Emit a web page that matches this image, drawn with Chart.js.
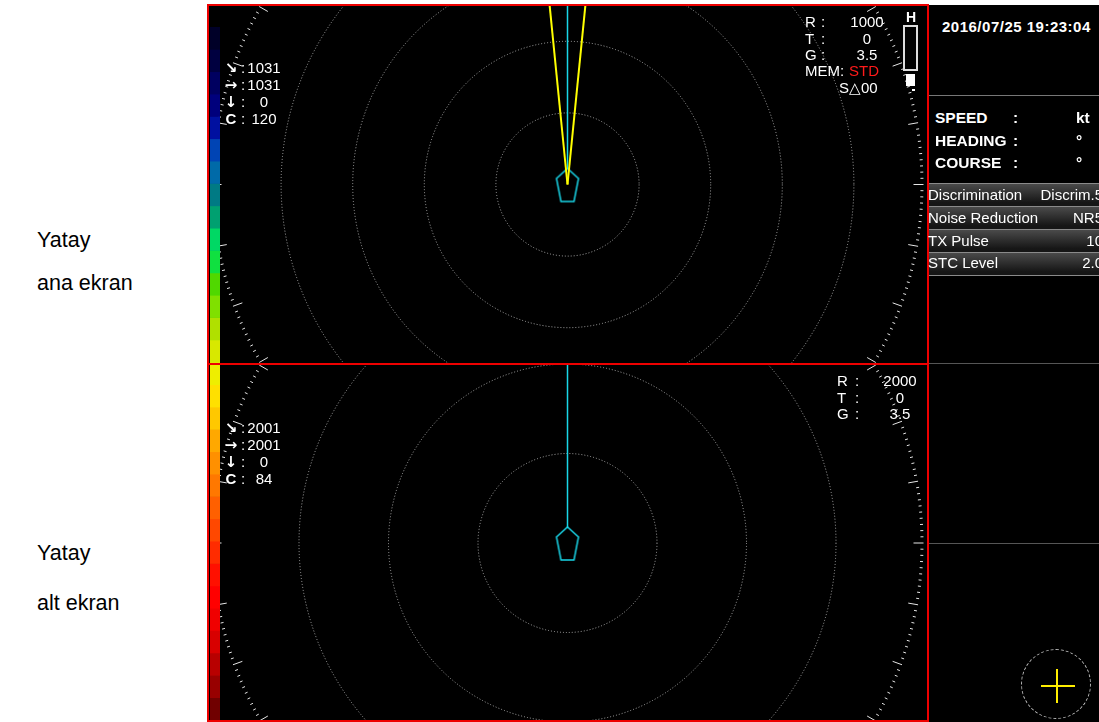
<!DOCTYPE html>
<html>
<head>
<meta charset="utf-8">
<script src="https://cdn.jsdelivr.net/npm/chart.js@4.4.1/dist/chart.umd.min.js"></script>
<style>
  body { margin: 0; width: 1099px; height: 722px; background: #fff; position: relative; overflow: hidden;
         font-family: "Liberation Sans", Arial, sans-serif; }
  .abs { position: absolute; }
  .txt { position: absolute; white-space: nowrap; color: #fff; font-size: 15px; line-height: 20px; height: 20px; }
  .red { position: absolute; background: #ee0000; }
  .sep { position: absolute; left: 929px; width: 170px; height: 1px; background: #777; }
  .row { position: absolute; left: 929px; width: 170px; height: 22px; border-top: 1px solid #8a8a8a;
         background: linear-gradient(#4a4a4a, #161616 85%); }
</style>
</head>
<body>
<div class="abs" style="left:207px;top:5px;width:892px;height:717px;background:#000"></div>
<canvas id="topPanel" class="abs" width="719" height="357" style="left:208px;top:6px"></canvas>
<canvas id="bottomPanel" class="abs" width="719" height="356" style="left:208px;top:365px"></canvas>
<canvas id="levelBar" class="abs" width="10" height="693" style="left:210px;top:27px"></canvas>

<div class="red" style="left:207px;top:4px;width:722px;height:2px"></div>
<div class="red" style="left:207px;top:363px;width:722px;height:2px"></div>
<div class="red" style="left:207px;top:720px;width:722px;height:2px"></div>
<div class="red" style="left:207px;top:4px;width:2px;height:718px"></div>
<div class="red" style="left:927px;top:4px;width:2px;height:718px"></div>

<!-- right info panel -->
<div class="sep" style="top:95px"></div>
<div class="row" style="top:183px"></div>
<div class="row" style="top:206px"></div>
<div class="row" style="top:229px"></div>
<div class="row" style="top:252px"></div>
<div class="sep" style="top:275px;background:#8a8a8a"></div>
<div class="sep" style="top:363px;background:#555"></div>
<div class="sep" style="top:543px;background:#555"></div>
<div class="abs" style="left:1021px;top:649px;width:70px;height:70px;border:1px dashed #bbb;border-radius:50%;box-sizing:border-box"></div>
<div class="abs" style="left:1041px;top:685px;width:34px;height:2px;background:#ffee00"></div>
<div class="abs" style="left:1056px;top:669px;width:2px;height:34px;background:#ffee00"></div>

<!-- H indicator -->
<div class="abs" style="left:903px;top:25px;width:15px;height:46px;border:2px solid #ddd;box-sizing:border-box"></div>
<div class="abs" style="left:906px;top:74px;width:9px;height:12px;background:#fff"></div>
<div class="abs" style="left:912px;top:89px;width:3px;height:2px;background:#fff"></div>

<script>
// range settings (metres) and range rings
const topRange = 1000;
const bottomRange = 2000;
const topRings = [200, 400, 600, 800];
const bottomRings = [500, 1000, 1500];

// bearings in degrees
const headingBearings = [0];
const topBeamBearings = [-5.7, 5.7];
const shipPosition = [{ x: 0, y: 0 }];

// echo level colour scale (top to bottom)
const levelColors = [
  '#000028', '#000040', '#000060', '#00007c', '#0010a0', '#0044b4', '#006aa8', '#007a84',
  '#00a070', '#00d864', '#10e040', '#50d800', '#80e000', '#b0e000', '#d8e800',
  '#eeee00', '#ffe000', '#ffc800', '#ffa800', '#ff9000', '#ff7800', '#ff6000', '#ff4800',
  '#ff2c00', '#ff1000', '#ff0000', '#f00000', '#d80000', '#b80000', '#980000', '#700000'
];

// readouts
const countSymbols = ['↘', '→', '↓', 'C'];
const topCounts = ['1031', '1031', '0', '120'];
const bottomCounts = ['2001', '2001', '0', '84'];
const readoutLabels = ['R', 'T', 'G'];
const topReadout = ['1000', '0', '3.5'];
const bottomReadout = ['2000', '0', '3.5'];
const navLabels = ['SPEED', 'HEADING', 'COURSE'];
const navUnits = ['kt', '°', '°'];
const settingNames = ['Discrimination', 'Noise Reduction', 'TX Pulse', 'STC Level'];
const settingValues = ['Discrim.5', 'NR5', '10', '2.0'];

const PX_PER_RANGE = 358;   // screen pixels for one full range
const shipOutline = [[0, -16], [11, -6], [6.5, 17], [-6.5, 17], [-11, -6]];

function text(str, x, y, css = {}, align) {
  const d = document.createElement('div');
  d.className = 'txt';
  d.textContent = str;
  d.style.top = (y - 10) + 'px';
  if (align === 'center') { d.style.left = (x - 40) + 'px'; d.style.width = '80px'; d.style.textAlign = 'center'; }
  else if (align === 'right') { d.style.left = (x - 150) + 'px'; d.style.width = '150px'; d.style.textAlign = 'right'; }
  else d.style.left = x + 'px';
  Object.assign(d.style, css);
  document.body.appendChild(d);
}

// side captions
const cap = { color: '#000', fontSize: '21.5px', lineHeight: '24px', height: '24px' };
text('Yatay', 37, 238, cap);
text('ana ekran', 37, 281, cap);
text('Yatay', 37, 551, cap);
text('alt ekran', 37, 601, cap);

// counts on the left of each panel
[[topCounts, 68], [bottomCounts, 428]].forEach(([vals, y0]) => {
  vals.forEach((v, i) => {
    const y = y0 + i * 17;
    const sym = i < 3 ? { fontWeight: 'bold', fontSize: '15px', fontFamily: '"DejaVu Sans", sans-serif' } : { fontWeight: 'bold' };
    text(countSymbols[i], 231, y, sym, 'center');
    text(':', 241, y);
    text(v, 264, y, {}, 'center');
  });
});

// range readouts
readoutLabels.forEach((l, i) => {
  const y = 22 + i * 16.5;
  text(l, 805, y); text(':', 821, y); text(topReadout[i], 867, y, {}, 'center');
  const yb = 381 + i * 16.5;
  text(l, 837, yb); text(':', 855, yb); text(bottomReadout[i], 900, yb, {}, 'center');
});
text('MEM:', 805, 71);
text('STD', 849, 71, { color: '#ff1a1a' });
text('S△00', 839, 88);
text('H', 906, 17, { fontWeight: 'bold', fontSize: '14px' });

// right panel
text('2016/07/25 19:23:04', 942, 27, { fontWeight: 'bold', letterSpacing: '0.5px' });
navLabels.forEach((l, i) => {
  const y = 118 + i * 22.5;
  const b = { fontWeight: 'bold', fontSize: '15.5px' };
  text(l, 935, y, b); text(':', 1013, y, b); text(navUnits[i], 1076, y, b);
});
settingNames.forEach((n, i) => {
  const y = 195 + i * 22.8;
  text(n, 928, y);
  text(settingValues[i], 1103, y, {}, 'right');
});

// ring and bearing scale plugin
const ringPlugin = {
  id: 'rings',
  beforeDatasetsDraw(chart, args, opts) {
    const { ctx, chartArea: a } = chart;
    const xs = chart.scales.x, ys = chart.scales.y;
    const cx = xs.getPixelForValue(0), cy = ys.getPixelForValue(0);
    const px = v => xs.getPixelForValue(v) - cx;
    ctx.save();
    ctx.beginPath(); ctx.rect(a.left, a.top, a.right - a.left, a.bottom - a.top); ctx.clip();
    ctx.setLineDash([1, 2]);
    ctx.strokeStyle = '#a8a8a8';
    ctx.lineWidth = 1;
    opts.rings.forEach(r => {
      ctx.beginPath(); ctx.arc(cx, cy, px(r), 0, Math.PI * 2); ctx.stroke();
    });
    ctx.setLineDash([]);
    ctx.strokeStyle = '#e6e6e6';
    const rOut = px(opts.range) - 2;
    for (let d = 0; d < 360; d++) {
      const len = d % 10 === 0 ? 10 : 3;
      const t = d * Math.PI / 180;
      ctx.beginPath();
      ctx.moveTo(cx + Math.sin(t) * rOut, cy - Math.cos(t) * rOut);
      ctx.lineTo(cx + Math.sin(t) * (rOut - len), cy - Math.cos(t) * (rOut - len));
      ctx.stroke();
    }
    ctx.restore();
  }
};

function shipIcon() {
  const c = document.createElement('canvas');
  c.width = 30; c.height = 40;
  const g = c.getContext('2d');
  g.translate(15, 20);
  g.beginPath();
  shipOutline.forEach(([x, y], i) => i ? g.lineTo(x, y) : g.moveTo(x, y));
  g.closePath();
  g.fillStyle = '#000'; g.fill();
  g.strokeStyle = '#19d6e8'; g.lineWidth = 1.5; g.stroke();
  return c;
}

function ray(bearing, range) {
  const t = bearing * Math.PI / 180;
  return [{ x: 0, y: 0 }, { x: Math.sin(t) * range * 2, y: Math.cos(t) * range * 2 }];
}

function renderPanel(canvas, range, rings, beams) {
  const w = canvas.width, h = canvas.height;
  const xHalf = (w / 2) * range / PX_PER_RANGE;
  const yHalf = (h / 2) * range / PX_PER_RANGE;
  const datasets = [];
  beams.forEach(b => datasets.push({ type: 'line', data: ray(b, range), borderColor: '#ffff00', borderWidth: 2, pointRadius: 0, order: 1 }));
  datasets.push({ type: 'scatter', data: shipPosition, pointStyle: shipIcon(), pointRadius: 10, order: 2 });
  headingBearings.forEach(b => datasets.push({ type: 'line', data: ray(b, range), borderColor: '#19d6e8', borderWidth: 1.5, pointRadius: 0, order: 3 }));

  new Chart(canvas, {
    type: 'scatter',
    data: { datasets },
    options: {
      responsive: false, animation: false, devicePixelRatio: 1, events: [],
      layout: { padding: 0, autoPadding: false },
      plugins: { legend: { display: false }, tooltip: { enabled: false }, rings: { range, rings } },
      scales: {
        x: { type: 'linear', display: false, min: -xHalf, max: xHalf },
        y: { type: 'linear', display: false, min: -yHalf, max: yHalf }
      }
    },
    plugins: [ringPlugin]
  });
}

renderPanel(document.getElementById('topPanel'), topRange, topRings, topBeamBearings);
renderPanel(document.getElementById('bottomPanel'), bottomRange, bottomRings, []);

// echo colour bar
new Chart(document.getElementById('levelBar'), {
  type: 'bar',
  data: {
    labels: ['level'],
    datasets: levelColors.map(c => ({ data: [1], backgroundColor: c, borderWidth: 0, barPercentage: 1, categoryPercentage: 1 }))
  },
  options: {
    responsive: false, animation: false, devicePixelRatio: 1, events: [],
    layout: { padding: 0, autoPadding: false },
    plugins: { legend: { display: false }, tooltip: { enabled: false } },
    scales: {
      x: { display: false, stacked: true },
      y: { display: false, stacked: true, reverse: true, min: 0, max: levelColors.length }
    }
  }
});
</script>
</body>
</html>
